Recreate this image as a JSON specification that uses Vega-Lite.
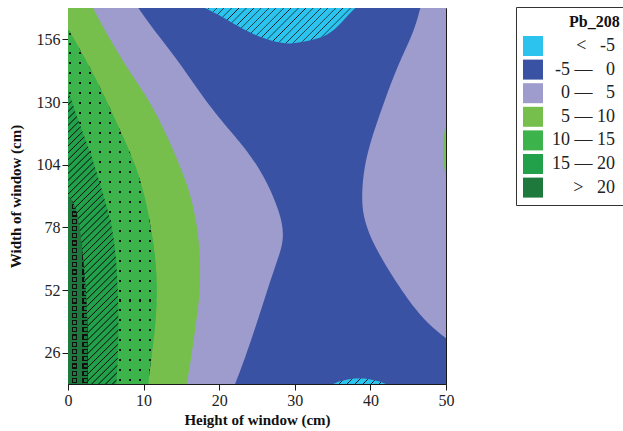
{
"$schema": "https://vega.github.io/schema/vega-lite/v6.json",
"width": 378, "height": 376,
"autosize": {"type": "none"},
"padding": {"left": 68, "top": 8, "right": 177, "bottom": 47},
"background": "white",
"config": {
  "view": {"stroke": "#1a1a1a", "strokeWidth": 1},
  "font": "Liberation Serif",
  "axis": {"grid": false, "domainColor": "#1a1a1a", "tickColor": "#1a1a1a", "labelColor": "#222", "titleColor": "#111", "labelFont": "Liberation Serif", "titleFont": "Liberation Serif", "labelFontSize": 16, "titleFontSize": 15, "titleFontWeight": "bold", "tickSize": 6, "labelPadding": 2, "labelFlush": false, "labelOverlap": false}
},
"data": {"values": [
  {"b":"n5","p":"a","y":13,"x0":0,"x1":50},{"b":"n5","p":"a","y":169,"x0":0,"x1":50},
  {"b":"p0","p":"L","y":169,"x0":0,"x1":9.3},{"b":"p0","p":"L","y":158.4,"x0":0,"x1":11.7},{"b":"p0","p":"L","y":144.5,"x0":0,"x1":15.2},{"b":"p0","p":"L","y":130.6,"x0":0,"x1":18.1},{"b":"p0","p":"L","y":116.7,"x0":0,"x1":21.8},{"b":"p0","p":"L","y":109.7,"x0":0,"x1":23.7},{"b":"p0","p":"L","y":102.8,"x0":0,"x1":25.2},{"b":"p0","p":"L","y":96,"x0":0,"x1":26.4},{"b":"p0","p":"L","y":88.9,"x0":0,"x1":27.4},{"b":"p0","p":"L","y":80,"x0":0,"x1":28.4},{"b":"p0","p":"L","y":72,"x0":0,"x1":28.5},{"b":"p0","p":"L","y":65.3,"x0":0,"x1":27.8},{"b":"p0","p":"L","y":51.4,"x0":0,"x1":26.3},{"b":"p0","p":"L","y":37.5,"x0":0,"x1":24.9},{"b":"p0","p":"L","y":23.6,"x0":0,"x1":23.4},{"b":"p0","p":"L","y":13,"x0":0,"x1":22.1},
  {"b":"p0","p":"R","y":169,"x0":46.6,"x1":50},{"b":"p0","p":"R","y":158.4,"x0":45.7,"x1":50},{"b":"p0","p":"R","y":144.5,"x0":43.5,"x1":50},{"b":"p0","p":"R","y":130.6,"x0":41.9,"x1":50},{"b":"p0","p":"R","y":116.7,"x0":40.3,"x1":50},{"b":"p0","p":"R","y":102.8,"x0":39.1,"x1":50},{"b":"p0","p":"R","y":88.9,"x0":38.8,"x1":50},{"b":"p0","p":"R","y":80.6,"x0":39.2,"x1":50},{"b":"p0","p":"R","y":70.9,"x0":40.4,"x1":50},{"b":"p0","p":"R","y":57,"x0":43.0,"x1":50},{"b":"p0","p":"R","y":43.1,"x0":46.1,"x1":50},{"b":"p0","p":"R","y":37,"x0":48.0,"x1":50},{"b":"p0","p":"R","y":32,"x0":50,"x1":50},
  {"b":"p5","p":"L","y":169,"x0":0,"x1":3.3},{"b":"p5","p":"L","y":158.4,"x0":0,"x1":5.1},{"b":"p5","p":"L","y":144.5,"x0":0,"x1":7.7},{"b":"p5","p":"L","y":130.6,"x0":0,"x1":10.8},{"b":"p5","p":"L","y":116.7,"x0":0,"x1":13.0},{"b":"p5","p":"L","y":102.8,"x0":0,"x1":14.9},{"b":"p5","p":"L","y":93,"x0":0,"x1":16.1},{"b":"p5","p":"L","y":79.2,"x0":0,"x1":17.1},{"b":"p5","p":"L","y":65.3,"x0":0,"x1":17.5},{"b":"p5","p":"L","y":51.4,"x0":0,"x1":17.5},{"b":"p5","p":"L","y":37.5,"x0":0,"x1":16.9},{"b":"p5","p":"L","y":23.6,"x0":0,"x1":16.3},{"b":"p5","p":"L","y":13,"x0":0,"x1":15.7},
  {"b":"p5","p":"R","y":98,"x0":50,"x1":50},{"b":"p5","p":"R","y":104,"x0":49.7,"x1":50},{"b":"p5","p":"R","y":110,"x0":49.6,"x1":50},{"b":"p5","p":"R","y":116,"x0":49.7,"x1":50},{"b":"p5","p":"R","y":122,"x0":50,"x1":50},
  {"b":"p10","p":"L","y":160,"x0":0,"x1":0},{"b":"p10","p":"L","y":158.4,"x0":0,"x1":0.4},{"b":"p10","p":"L","y":144.5,"x0":0,"x1":2.9},{"b":"p10","p":"L","y":130.6,"x0":0,"x1":5.1},{"b":"p10","p":"L","y":116.7,"x0":0,"x1":7.1},{"b":"p10","p":"L","y":102.8,"x0":0,"x1":9.1},{"b":"p10","p":"L","y":90,"x0":0,"x1":10.2},{"b":"p10","p":"L","y":79.2,"x0":0,"x1":10.9},{"b":"p10","p":"L","y":65.3,"x0":0,"x1":11.6},{"b":"p10","p":"L","y":51.4,"x0":0,"x1":11.8},{"b":"p10","p":"L","y":37.5,"x0":0,"x1":11.6},{"b":"p10","p":"L","y":23.6,"x0":0,"x1":11.0},{"b":"p10","p":"L","y":13,"x0":0,"x1":10.6},
  {"b":"p15","p":"L","y":135,"x0":0,"x1":0},{"b":"p15","p":"L","y":130.6,"x0":0,"x1":0.45},{"b":"p15","p":"L","y":116.7,"x0":0,"x1":2.0},{"b":"p15","p":"L","y":109.7,"x0":0,"x1":2.9},{"b":"p15","p":"L","y":102.8,"x0":0,"x1":3.6},{"b":"p15","p":"L","y":89,"x0":0,"x1":4.9},{"b":"p15","p":"L","y":79.2,"x0":0,"x1":5.8},{"b":"p15","p":"L","y":65.3,"x0":0,"x1":6.4},{"b":"p15","p":"L","y":51.4,"x0":0,"x1":6.6},{"b":"p15","p":"L","y":37.5,"x0":0,"x1":6.7},{"b":"p15","p":"L","y":23.6,"x0":0,"x1":6.6},{"b":"p15","p":"L","y":13,"x0":0,"x1":6.4},
  {"b":"gt","p":"L","y":91,"x0":0,"x1":0},{"b":"gt","p":"L","y":88,"x0":0,"x1":0.9},{"b":"gt","p":"L","y":79.2,"x0":0,"x1":1.5},{"b":"gt","p":"L","y":65.3,"x0":0,"x1":2.0},{"b":"gt","p":"L","y":51.4,"x0":0,"x1":2.4},{"b":"gt","p":"L","y":37.5,"x0":0,"x1":2.6},{"b":"gt","p":"L","y":23.6,"x0":0,"x1":2.6},{"b":"gt","p":"L","y":13,"x0":0,"x1":2.6},
  {"b":"lt","p":"T","y":169,"x0":18.1,"x1":38.0},{"b":"lt","p":"T","y":165.3,"x0":20.5,"x1":36.8},{"b":"lt","p":"T","y":161,"x0":22.7,"x1":35.6},{"b":"lt","p":"T","y":158.4,"x0":24.3,"x1":34.6},{"b":"lt","p":"T","y":156.3,"x0":26.0,"x1":33.2},{"b":"lt","p":"T","y":154.8,"x0":27.5,"x1":31.0},{"b":"lt","p":"T","y":154.3,"x0":29.0,"x1":29.5},
  {"b":"lt","p":"B","y":13,"x0":35.1,"x1":42.0},{"b":"lt","p":"B","y":14,"x0":35.8,"x1":41.3},{"b":"lt","p":"B","y":15,"x0":37.0,"x1":40.0},{"b":"lt","p":"B","y":15.3,"x0":38.3,"x1":38.8}
]},
"encoding": {
  "y": {"field": "y", "type": "quantitative", "scale": {"domain": [13, 169], "nice": false, "zero": false}, "axis": {"values": [26, 52, 78, 104, 130, 156], "title": "Width of window (cm)", "titlePadding": 13}},
  "x": {"field": "x0", "type": "quantitative", "scale": {"domain": [0, 50], "nice": false, "zero": false}, "axis": {"values": [0, 10, 20, 30, 40, 50], "title": "Height of window (cm)", "titlePadding": 4}},
  "x2": {"field": "x1"},
  "detail": {"field": "p"},
  "color": {"field": "b", "type": "nominal",
    "scale": {"domain": ["lt", "n5", "p0", "p5", "p10", "p15", "gt"], "range": ["#2CC3EE", "#3A52A3", "#9D9CCD", "#77BF4D", "#3CB44B", "#22A14A", "#1D7A3C"]},
    "legend": {"title": "Pb_208", "orient": "none", "legendX": 448, "legendY": -1, "direction": "vertical", "symbolType": "square", "symbolSize": 400, "symbolStrokeWidth": 0, "symbolOpacity": 1, "labelFontSize": 18, "labelFont": "Liberation Serif", "labelColor": "#222", "labelAlign": "right", "labelOffset": 72, "titleFontSize": 16, "titleFontWeight": "bold", "titleFont": "Liberation Serif", "titleColor": "#111", "titleAnchor": "middle", "titleAlign": "left", "titlePadding": 6, "padding": 7, "rowPadding": 3.6, "strokeColor": "#333", "fillColor": "white",
      "labelExpr": "datum.value=='lt'?'<\u2007\u00a0-5':datum.value=='n5'?'-5 \u2014 \u20070':datum.value=='p0'?'0 \u2014 \u20075':datum.value=='p5'?'5 \u2014 10':datum.value=='p10'?'10 \u2014 15':datum.value=='p15'?'15 \u2014 20':'>\u2007\u00a020'"}}
},
"layer": [
  {"transform": [{"filter": "datum.b=='n5'"}], "mark": {"type": "area", "orient": "horizontal", "clip": true}},
  {"transform": [{"filter": "datum.b=='p0'"}], "mark": {"type": "area", "orient": "horizontal", "clip": true, "interpolate": "basis"}},
  {"transform": [{"filter": "datum.b=='p5'"}], "mark": {"type": "area", "orient": "horizontal", "clip": true, "interpolate": "basis"}},
  {"transform": [{"filter": "datum.b=='p10'"}], "mark": {"type": "area", "orient": "horizontal", "clip": true, "interpolate": "basis"}},
  {"transform": [{"filter": "datum.b=='p10'"}], "mark": {"type": "area", "orient": "horizontal", "clip": true, "interpolate": "basis"},
   "encoding": {"color": {"value": {"gradient": "linear", "x1": 0, "y1": 0, "x2": 1, "y2": 0, "stops": [
    {"offset":0.0079,"color":"rgba(0,0,0,0)"},{"offset":0.0079,"color":"#111"},{"offset":0.0305,"color":"#111"},{"offset":0.0305,"color":"rgba(0,0,0,0)"},
    {"offset":0.1209,"color":"rgba(0,0,0,0)"},{"offset":0.1209,"color":"#111"},{"offset":0.1435,"color":"#111"},{"offset":0.1435,"color":"rgba(0,0,0,0)"},
    {"offset":0.2339,"color":"rgba(0,0,0,0)"},{"offset":0.2339,"color":"#111"},{"offset":0.2565,"color":"#111"},{"offset":0.2565,"color":"rgba(0,0,0,0)"},
    {"offset":0.3469,"color":"rgba(0,0,0,0)"},{"offset":0.3469,"color":"#111"},{"offset":0.3695,"color":"#111"},{"offset":0.3695,"color":"rgba(0,0,0,0)"},
    {"offset":0.4599,"color":"rgba(0,0,0,0)"},{"offset":0.4599,"color":"#111"},{"offset":0.4825,"color":"#111"},{"offset":0.4825,"color":"rgba(0,0,0,0)"},
    {"offset":0.5729,"color":"rgba(0,0,0,0)"},{"offset":0.5729,"color":"#111"},{"offset":0.5955,"color":"#111"},{"offset":0.5955,"color":"rgba(0,0,0,0)"},
    {"offset":0.6859,"color":"rgba(0,0,0,0)"},{"offset":0.6859,"color":"#111"},{"offset":0.7085,"color":"#111"},{"offset":0.7085,"color":"rgba(0,0,0,0)"},
    {"offset":0.7989,"color":"rgba(0,0,0,0)"},{"offset":0.7989,"color":"#111"},{"offset":0.8215,"color":"#111"},{"offset":0.8215,"color":"rgba(0,0,0,0)"},
    {"offset":0.9119,"color":"rgba(0,0,0,0)"},{"offset":0.9119,"color":"#111"},{"offset":0.9345,"color":"#111"},{"offset":0.9345,"color":"rgba(0,0,0,0)"}
   ]}}}},
  {"transform": [{"filter": "datum.b=='p10'"}], "mark": {"type": "area", "orient": "horizontal", "clip": true, "interpolate": "basis"},
   "encoding": {"color": {"value": {"gradient": "linear", "x1": 0, "y1": 0, "x2": 0, "y2": 1, "stops": [
    {"offset":0.0085,"color":"#3CB44B"},{"offset":0.0085,"color":"rgba(0,0,0,0)"},{"offset":0.0142,"color":"rgba(0,0,0,0)"},{"offset":0.0142,"color":"#3CB44B"},
    {"offset":0.0364,"color":"#3CB44B"},{"offset":0.0364,"color":"rgba(0,0,0,0)"},{"offset":0.0421,"color":"rgba(0,0,0,0)"},{"offset":0.0421,"color":"#3CB44B"},
    {"offset":0.0643,"color":"#3CB44B"},{"offset":0.0643,"color":"rgba(0,0,0,0)"},{"offset":0.0700,"color":"rgba(0,0,0,0)"},{"offset":0.0700,"color":"#3CB44B"},
    {"offset":0.0922,"color":"#3CB44B"},{"offset":0.0922,"color":"rgba(0,0,0,0)"},{"offset":0.0979,"color":"rgba(0,0,0,0)"},{"offset":0.0979,"color":"#3CB44B"},
    {"offset":0.1200,"color":"#3CB44B"},{"offset":0.1200,"color":"rgba(0,0,0,0)"},{"offset":0.1257,"color":"rgba(0,0,0,0)"},{"offset":0.1257,"color":"#3CB44B"},
    {"offset":0.1479,"color":"#3CB44B"},{"offset":0.1479,"color":"rgba(0,0,0,0)"},{"offset":0.1536,"color":"rgba(0,0,0,0)"},{"offset":0.1536,"color":"#3CB44B"},
    {"offset":0.1758,"color":"#3CB44B"},{"offset":0.1758,"color":"rgba(0,0,0,0)"},{"offset":0.1815,"color":"rgba(0,0,0,0)"},{"offset":0.1815,"color":"#3CB44B"},
    {"offset":0.2037,"color":"#3CB44B"},{"offset":0.2037,"color":"rgba(0,0,0,0)"},{"offset":0.2094,"color":"rgba(0,0,0,0)"},{"offset":0.2094,"color":"#3CB44B"},
    {"offset":0.2316,"color":"#3CB44B"},{"offset":0.2316,"color":"rgba(0,0,0,0)"},{"offset":0.2373,"color":"rgba(0,0,0,0)"},{"offset":0.2373,"color":"#3CB44B"},
    {"offset":0.2595,"color":"#3CB44B"},{"offset":0.2595,"color":"rgba(0,0,0,0)"},{"offset":0.2652,"color":"rgba(0,0,0,0)"},{"offset":0.2652,"color":"#3CB44B"},
    {"offset":0.2874,"color":"#3CB44B"},{"offset":0.2874,"color":"rgba(0,0,0,0)"},{"offset":0.2931,"color":"rgba(0,0,0,0)"},{"offset":0.2931,"color":"#3CB44B"},
    {"offset":0.3153,"color":"#3CB44B"},{"offset":0.3153,"color":"rgba(0,0,0,0)"},{"offset":0.3210,"color":"rgba(0,0,0,0)"},{"offset":0.3210,"color":"#3CB44B"},
    {"offset":0.3432,"color":"#3CB44B"},{"offset":0.3432,"color":"rgba(0,0,0,0)"},{"offset":0.3489,"color":"rgba(0,0,0,0)"},{"offset":0.3489,"color":"#3CB44B"},
    {"offset":0.3711,"color":"#3CB44B"},{"offset":0.3711,"color":"rgba(0,0,0,0)"},{"offset":0.3768,"color":"rgba(0,0,0,0)"},{"offset":0.3768,"color":"#3CB44B"},
    {"offset":0.3990,"color":"#3CB44B"},{"offset":0.3990,"color":"rgba(0,0,0,0)"},{"offset":0.4047,"color":"rgba(0,0,0,0)"},{"offset":0.4047,"color":"#3CB44B"},
    {"offset":0.4268,"color":"#3CB44B"},{"offset":0.4268,"color":"rgba(0,0,0,0)"},{"offset":0.4325,"color":"rgba(0,0,0,0)"},{"offset":0.4325,"color":"#3CB44B"},
    {"offset":0.4547,"color":"#3CB44B"},{"offset":0.4547,"color":"rgba(0,0,0,0)"},{"offset":0.4604,"color":"rgba(0,0,0,0)"},{"offset":0.4604,"color":"#3CB44B"},
    {"offset":0.4826,"color":"#3CB44B"},{"offset":0.4826,"color":"rgba(0,0,0,0)"},{"offset":0.4883,"color":"rgba(0,0,0,0)"},{"offset":0.4883,"color":"#3CB44B"},
    {"offset":0.5105,"color":"#3CB44B"},{"offset":0.5105,"color":"rgba(0,0,0,0)"},{"offset":0.5162,"color":"rgba(0,0,0,0)"},{"offset":0.5162,"color":"#3CB44B"},
    {"offset":0.5384,"color":"#3CB44B"},{"offset":0.5384,"color":"rgba(0,0,0,0)"},{"offset":0.5441,"color":"rgba(0,0,0,0)"},{"offset":0.5441,"color":"#3CB44B"},
    {"offset":0.5663,"color":"#3CB44B"},{"offset":0.5663,"color":"rgba(0,0,0,0)"},{"offset":0.5720,"color":"rgba(0,0,0,0)"},{"offset":0.5720,"color":"#3CB44B"},
    {"offset":0.5942,"color":"#3CB44B"},{"offset":0.5942,"color":"rgba(0,0,0,0)"},{"offset":0.5999,"color":"rgba(0,0,0,0)"},{"offset":0.5999,"color":"#3CB44B"},
    {"offset":0.6221,"color":"#3CB44B"},{"offset":0.6221,"color":"rgba(0,0,0,0)"},{"offset":0.6278,"color":"rgba(0,0,0,0)"},{"offset":0.6278,"color":"#3CB44B"},
    {"offset":0.6500,"color":"#3CB44B"},{"offset":0.6500,"color":"rgba(0,0,0,0)"},{"offset":0.6557,"color":"rgba(0,0,0,0)"},{"offset":0.6557,"color":"#3CB44B"},
    {"offset":0.6779,"color":"#3CB44B"},{"offset":0.6779,"color":"rgba(0,0,0,0)"},{"offset":0.6836,"color":"rgba(0,0,0,0)"},{"offset":0.6836,"color":"#3CB44B"},
    {"offset":0.7058,"color":"#3CB44B"},{"offset":0.7058,"color":"rgba(0,0,0,0)"},{"offset":0.7115,"color":"rgba(0,0,0,0)"},{"offset":0.7115,"color":"#3CB44B"},
    {"offset":0.7336,"color":"#3CB44B"},{"offset":0.7336,"color":"rgba(0,0,0,0)"},{"offset":0.7393,"color":"rgba(0,0,0,0)"},{"offset":0.7393,"color":"#3CB44B"},
    {"offset":0.7615,"color":"#3CB44B"},{"offset":0.7615,"color":"rgba(0,0,0,0)"},{"offset":0.7672,"color":"rgba(0,0,0,0)"},{"offset":0.7672,"color":"#3CB44B"},
    {"offset":0.7894,"color":"#3CB44B"},{"offset":0.7894,"color":"rgba(0,0,0,0)"},{"offset":0.7951,"color":"rgba(0,0,0,0)"},{"offset":0.7951,"color":"#3CB44B"},
    {"offset":0.8173,"color":"#3CB44B"},{"offset":0.8173,"color":"rgba(0,0,0,0)"},{"offset":0.8230,"color":"rgba(0,0,0,0)"},{"offset":0.8230,"color":"#3CB44B"},
    {"offset":0.8452,"color":"#3CB44B"},{"offset":0.8452,"color":"rgba(0,0,0,0)"},{"offset":0.8509,"color":"rgba(0,0,0,0)"},{"offset":0.8509,"color":"#3CB44B"},
    {"offset":0.8731,"color":"#3CB44B"},{"offset":0.8731,"color":"rgba(0,0,0,0)"},{"offset":0.8788,"color":"rgba(0,0,0,0)"},{"offset":0.8788,"color":"#3CB44B"},
    {"offset":0.9010,"color":"#3CB44B"},{"offset":0.9010,"color":"rgba(0,0,0,0)"},{"offset":0.9067,"color":"rgba(0,0,0,0)"},{"offset":0.9067,"color":"#3CB44B"},
    {"offset":0.9289,"color":"#3CB44B"},{"offset":0.9289,"color":"rgba(0,0,0,0)"},{"offset":0.9346,"color":"rgba(0,0,0,0)"},{"offset":0.9346,"color":"#3CB44B"},
    {"offset":0.9568,"color":"#3CB44B"},{"offset":0.9568,"color":"rgba(0,0,0,0)"},{"offset":0.9625,"color":"rgba(0,0,0,0)"},{"offset":0.9625,"color":"#3CB44B"},
    {"offset":0.9847,"color":"#3CB44B"},{"offset":0.9847,"color":"rgba(0,0,0,0)"},{"offset":0.9904,"color":"rgba(0,0,0,0)"},{"offset":0.9904,"color":"#3CB44B"}
   ]}}}},
  {"transform": [{"filter": "datum.b=='p15'"}], "mark": {"type": "area", "orient": "horizontal", "clip": true, "interpolate": "basis"}},
  {"transform": [{"filter": "datum.b=='p15'"}], "mark": {"type": "area", "orient": "horizontal", "clip": true, "interpolate": "basis"},
   "encoding": {"color": {"value": {"gradient": "linear", "x1": 0, "y1": 0, "x2": 0.193, "y2": 1.137, "stops": [
    {"offset":0,"color":"rgba(0,0,0,0)"},{"offset":0.003,"color":"#111"},{"offset":0.006,"color":"rgba(0,0,0,0)"},
    {"offset":0.02,"color":"rgba(0,0,0,0)"},{"offset":0.023,"color":"#111"},{"offset":0.026,"color":"rgba(0,0,0,0)"},
    {"offset":0.04,"color":"rgba(0,0,0,0)"},{"offset":0.043,"color":"#111"},{"offset":0.046,"color":"rgba(0,0,0,0)"},
    {"offset":0.06,"color":"rgba(0,0,0,0)"},{"offset":0.063,"color":"#111"},{"offset":0.066,"color":"rgba(0,0,0,0)"},
    {"offset":0.08,"color":"rgba(0,0,0,0)"},{"offset":0.083,"color":"#111"},{"offset":0.086,"color":"rgba(0,0,0,0)"},
    {"offset":0.10,"color":"rgba(0,0,0,0)"},{"offset":0.103,"color":"#111"},{"offset":0.106,"color":"rgba(0,0,0,0)"},
    {"offset":0.12,"color":"rgba(0,0,0,0)"},{"offset":0.123,"color":"#111"},{"offset":0.126,"color":"rgba(0,0,0,0)"},
    {"offset":0.14,"color":"rgba(0,0,0,0)"},{"offset":0.143,"color":"#111"},{"offset":0.146,"color":"rgba(0,0,0,0)"},
    {"offset":0.16,"color":"rgba(0,0,0,0)"},{"offset":0.163,"color":"#111"},{"offset":0.166,"color":"rgba(0,0,0,0)"},
    {"offset":0.18,"color":"rgba(0,0,0,0)"},{"offset":0.183,"color":"#111"},{"offset":0.186,"color":"rgba(0,0,0,0)"},
    {"offset":0.20,"color":"rgba(0,0,0,0)"},{"offset":0.203,"color":"#111"},{"offset":0.206,"color":"rgba(0,0,0,0)"},
    {"offset":0.22,"color":"rgba(0,0,0,0)"},{"offset":0.223,"color":"#111"},{"offset":0.226,"color":"rgba(0,0,0,0)"},
    {"offset":0.24,"color":"rgba(0,0,0,0)"},{"offset":0.243,"color":"#111"},{"offset":0.246,"color":"rgba(0,0,0,0)"},
    {"offset":0.26,"color":"rgba(0,0,0,0)"},{"offset":0.263,"color":"#111"},{"offset":0.266,"color":"rgba(0,0,0,0)"},
    {"offset":0.28,"color":"rgba(0,0,0,0)"},{"offset":0.283,"color":"#111"},{"offset":0.286,"color":"rgba(0,0,0,0)"},
    {"offset":0.30,"color":"rgba(0,0,0,0)"},{"offset":0.303,"color":"#111"},{"offset":0.306,"color":"rgba(0,0,0,0)"},
    {"offset":0.32,"color":"rgba(0,0,0,0)"},{"offset":0.323,"color":"#111"},{"offset":0.326,"color":"rgba(0,0,0,0)"},
    {"offset":0.34,"color":"rgba(0,0,0,0)"},{"offset":0.343,"color":"#111"},{"offset":0.346,"color":"rgba(0,0,0,0)"},
    {"offset":0.36,"color":"rgba(0,0,0,0)"},{"offset":0.363,"color":"#111"},{"offset":0.366,"color":"rgba(0,0,0,0)"},
    {"offset":0.38,"color":"rgba(0,0,0,0)"},{"offset":0.383,"color":"#111"},{"offset":0.386,"color":"rgba(0,0,0,0)"},
    {"offset":0.40,"color":"rgba(0,0,0,0)"},{"offset":0.403,"color":"#111"},{"offset":0.406,"color":"rgba(0,0,0,0)"},
    {"offset":0.42,"color":"rgba(0,0,0,0)"},{"offset":0.423,"color":"#111"},{"offset":0.426,"color":"rgba(0,0,0,0)"},
    {"offset":0.44,"color":"rgba(0,0,0,0)"},{"offset":0.443,"color":"#111"},{"offset":0.446,"color":"rgba(0,0,0,0)"},
    {"offset":0.46,"color":"rgba(0,0,0,0)"},{"offset":0.463,"color":"#111"},{"offset":0.466,"color":"rgba(0,0,0,0)"},
    {"offset":0.48,"color":"rgba(0,0,0,0)"},{"offset":0.483,"color":"#111"},{"offset":0.486,"color":"rgba(0,0,0,0)"},
    {"offset":0.50,"color":"rgba(0,0,0,0)"},{"offset":0.503,"color":"#111"},{"offset":0.506,"color":"rgba(0,0,0,0)"},
    {"offset":0.52,"color":"rgba(0,0,0,0)"},{"offset":0.523,"color":"#111"},{"offset":0.526,"color":"rgba(0,0,0,0)"},
    {"offset":0.54,"color":"rgba(0,0,0,0)"},{"offset":0.543,"color":"#111"},{"offset":0.546,"color":"rgba(0,0,0,0)"},
    {"offset":0.56,"color":"rgba(0,0,0,0)"},{"offset":0.563,"color":"#111"},{"offset":0.566,"color":"rgba(0,0,0,0)"},
    {"offset":0.58,"color":"rgba(0,0,0,0)"},{"offset":0.583,"color":"#111"},{"offset":0.586,"color":"rgba(0,0,0,0)"},
    {"offset":0.60,"color":"rgba(0,0,0,0)"},{"offset":0.603,"color":"#111"},{"offset":0.606,"color":"rgba(0,0,0,0)"},
    {"offset":0.62,"color":"rgba(0,0,0,0)"},{"offset":0.623,"color":"#111"},{"offset":0.626,"color":"rgba(0,0,0,0)"},
    {"offset":0.64,"color":"rgba(0,0,0,0)"},{"offset":0.643,"color":"#111"},{"offset":0.646,"color":"rgba(0,0,0,0)"},
    {"offset":0.66,"color":"rgba(0,0,0,0)"},{"offset":0.663,"color":"#111"},{"offset":0.666,"color":"rgba(0,0,0,0)"},
    {"offset":0.68,"color":"rgba(0,0,0,0)"},{"offset":0.683,"color":"#111"},{"offset":0.686,"color":"rgba(0,0,0,0)"},
    {"offset":0.70,"color":"rgba(0,0,0,0)"},{"offset":0.703,"color":"#111"},{"offset":0.706,"color":"rgba(0,0,0,0)"},
    {"offset":0.72,"color":"rgba(0,0,0,0)"},{"offset":0.723,"color":"#111"},{"offset":0.726,"color":"rgba(0,0,0,0)"},
    {"offset":0.74,"color":"rgba(0,0,0,0)"},{"offset":0.743,"color":"#111"},{"offset":0.746,"color":"rgba(0,0,0,0)"},
    {"offset":0.76,"color":"rgba(0,0,0,0)"},{"offset":0.763,"color":"#111"},{"offset":0.766,"color":"rgba(0,0,0,0)"},
    {"offset":0.78,"color":"rgba(0,0,0,0)"},{"offset":0.783,"color":"#111"},{"offset":0.786,"color":"rgba(0,0,0,0)"},
    {"offset":0.80,"color":"rgba(0,0,0,0)"},{"offset":0.803,"color":"#111"},{"offset":0.806,"color":"rgba(0,0,0,0)"},
    {"offset":0.82,"color":"rgba(0,0,0,0)"},{"offset":0.823,"color":"#111"},{"offset":0.826,"color":"rgba(0,0,0,0)"},
    {"offset":0.84,"color":"rgba(0,0,0,0)"},{"offset":0.843,"color":"#111"},{"offset":0.846,"color":"rgba(0,0,0,0)"},
    {"offset":0.86,"color":"rgba(0,0,0,0)"},{"offset":0.863,"color":"#111"},{"offset":0.866,"color":"rgba(0,0,0,0)"},
    {"offset":0.88,"color":"rgba(0,0,0,0)"},{"offset":0.883,"color":"#111"},{"offset":0.886,"color":"rgba(0,0,0,0)"},
    {"offset":0.90,"color":"rgba(0,0,0,0)"},{"offset":0.903,"color":"#111"},{"offset":0.906,"color":"rgba(0,0,0,0)"},
    {"offset":0.92,"color":"rgba(0,0,0,0)"},{"offset":0.923,"color":"#111"},{"offset":0.926,"color":"rgba(0,0,0,0)"},
    {"offset":0.94,"color":"rgba(0,0,0,0)"},{"offset":0.943,"color":"#111"},{"offset":0.946,"color":"rgba(0,0,0,0)"},
    {"offset":0.96,"color":"rgba(0,0,0,0)"},{"offset":0.963,"color":"#111"},{"offset":0.966,"color":"rgba(0,0,0,0)"},
    {"offset":0.98,"color":"rgba(0,0,0,0)"},{"offset":0.983,"color":"#111"},{"offset":0.986,"color":"rgba(0,0,0,0)"}
   ]}}}},
  {"transform": [{"filter": "datum.b=='gt'"}], "mark": {"type": "area", "orient": "horizontal", "clip": true, "interpolate": "basis"}},
  {"transform": [{"filter": "datum.b=='gt'"}], "mark": {"type": "area", "orient": "horizontal", "clip": true, "interpolate": "basis"},
   "encoding": {"color": {"value": {"gradient": "linear", "x1": 0, "y1": 0, "x2": 1, "y2": 0, "stops": [
    {"offset":0.2035,"color":"rgba(0,0,0,0)"},{"offset":0.2035,"color":"#111"},{"offset":0.2696,"color":"#111"},{"offset":0.2696,"color":"#1D7A3C"},{"offset":0.4171,"color":"#1D7A3C"},{"offset":0.4171,"color":"#111"},{"offset":0.4832,"color":"#111"},{"offset":0.4832,"color":"rgba(0,0,0,0)"},
    {"offset":0.7375,"color":"rgba(0,0,0,0)"},{"offset":0.7375,"color":"#111"},{"offset":0.8037,"color":"#111"},{"offset":0.8037,"color":"#1D7A3C"},{"offset":0.9512,"color":"#1D7A3C"},{"offset":0.9512,"color":"#111"},{"offset":1,"color":"#111"}
   ]}}}},
  {"transform": [{"filter": "datum.b=='gt'"}], "mark": {"type": "area", "orient": "horizontal", "clip": true, "interpolate": "basis"},
   "encoding": {"color": {"value": {"gradient": "linear", "x1": 0, "y1": 0, "x2": 0, "y2": 1, "stops": [
    {"offset":0.005,"color":"#1D7A3C"},{"offset":0.005,"color":"#111"},{"offset":0.0115,"color":"#111"},{"offset":0.0115,"color":"rgba(0,0,0,0)"},{"offset":0.0265,"color":"rgba(0,0,0,0)"},{"offset":0.0265,"color":"#111"},{"offset":0.033,"color":"#111"},{"offset":0.033,"color":"#1D7A3C"},
    {"offset":0.0435,"color":"#1D7A3C"},{"offset":0.0435,"color":"#111"},{"offset":0.05,"color":"#111"},{"offset":0.05,"color":"rgba(0,0,0,0)"},{"offset":0.065,"color":"rgba(0,0,0,0)"},{"offset":0.065,"color":"#111"},{"offset":0.0715,"color":"#111"},{"offset":0.0715,"color":"#1D7A3C"},
    {"offset":0.082,"color":"#1D7A3C"},{"offset":0.082,"color":"#111"},{"offset":0.0885,"color":"#111"},{"offset":0.0885,"color":"rgba(0,0,0,0)"},{"offset":0.1035,"color":"rgba(0,0,0,0)"},{"offset":0.1035,"color":"#111"},{"offset":0.11,"color":"#111"},{"offset":0.11,"color":"#1D7A3C"},
    {"offset":0.1205,"color":"#1D7A3C"},{"offset":0.1205,"color":"#111"},{"offset":0.127,"color":"#111"},{"offset":0.127,"color":"rgba(0,0,0,0)"},{"offset":0.142,"color":"rgba(0,0,0,0)"},{"offset":0.142,"color":"#111"},{"offset":0.1485,"color":"#111"},{"offset":0.1485,"color":"#1D7A3C"},
    {"offset":0.159,"color":"#1D7A3C"},{"offset":0.159,"color":"#111"},{"offset":0.1655,"color":"#111"},{"offset":0.1655,"color":"rgba(0,0,0,0)"},{"offset":0.1805,"color":"rgba(0,0,0,0)"},{"offset":0.1805,"color":"#111"},{"offset":0.187,"color":"#111"},{"offset":0.187,"color":"#1D7A3C"},
    {"offset":0.1975,"color":"#1D7A3C"},{"offset":0.1975,"color":"#111"},{"offset":0.204,"color":"#111"},{"offset":0.204,"color":"rgba(0,0,0,0)"},{"offset":0.219,"color":"rgba(0,0,0,0)"},{"offset":0.219,"color":"#111"},{"offset":0.2255,"color":"#111"},{"offset":0.2255,"color":"#1D7A3C"},
    {"offset":0.236,"color":"#1D7A3C"},{"offset":0.236,"color":"#111"},{"offset":0.2425,"color":"#111"},{"offset":0.2425,"color":"rgba(0,0,0,0)"},{"offset":0.2575,"color":"rgba(0,0,0,0)"},{"offset":0.2575,"color":"#111"},{"offset":0.264,"color":"#111"},{"offset":0.264,"color":"#1D7A3C"},
    {"offset":0.2745,"color":"#1D7A3C"},{"offset":0.2745,"color":"#111"},{"offset":0.281,"color":"#111"},{"offset":0.281,"color":"rgba(0,0,0,0)"},{"offset":0.296,"color":"rgba(0,0,0,0)"},{"offset":0.296,"color":"#111"},{"offset":0.3025,"color":"#111"},{"offset":0.3025,"color":"#1D7A3C"},
    {"offset":0.313,"color":"#1D7A3C"},{"offset":0.313,"color":"#111"},{"offset":0.3195,"color":"#111"},{"offset":0.3195,"color":"rgba(0,0,0,0)"},{"offset":0.3345,"color":"rgba(0,0,0,0)"},{"offset":0.3345,"color":"#111"},{"offset":0.341,"color":"#111"},{"offset":0.341,"color":"#1D7A3C"},
    {"offset":0.3515,"color":"#1D7A3C"},{"offset":0.3515,"color":"#111"},{"offset":0.358,"color":"#111"},{"offset":0.358,"color":"rgba(0,0,0,0)"},{"offset":0.373,"color":"rgba(0,0,0,0)"},{"offset":0.373,"color":"#111"},{"offset":0.3795,"color":"#111"},{"offset":0.3795,"color":"#1D7A3C"},
    {"offset":0.39,"color":"#1D7A3C"},{"offset":0.39,"color":"#111"},{"offset":0.3965,"color":"#111"},{"offset":0.3965,"color":"rgba(0,0,0,0)"},{"offset":0.4115,"color":"rgba(0,0,0,0)"},{"offset":0.4115,"color":"#111"},{"offset":0.418,"color":"#111"},{"offset":0.418,"color":"#1D7A3C"},
    {"offset":0.4285,"color":"#1D7A3C"},{"offset":0.4285,"color":"#111"},{"offset":0.435,"color":"#111"},{"offset":0.435,"color":"rgba(0,0,0,0)"},{"offset":0.45,"color":"rgba(0,0,0,0)"},{"offset":0.45,"color":"#111"},{"offset":0.4565,"color":"#111"},{"offset":0.4565,"color":"#1D7A3C"},
    {"offset":0.467,"color":"#1D7A3C"},{"offset":0.467,"color":"#111"},{"offset":0.4735,"color":"#111"},{"offset":0.4735,"color":"rgba(0,0,0,0)"},{"offset":0.4885,"color":"rgba(0,0,0,0)"},{"offset":0.4885,"color":"#111"},{"offset":0.495,"color":"#111"},{"offset":0.495,"color":"#1D7A3C"},
    {"offset":0.5055,"color":"#1D7A3C"},{"offset":0.5055,"color":"#111"},{"offset":0.512,"color":"#111"},{"offset":0.512,"color":"rgba(0,0,0,0)"},{"offset":0.527,"color":"rgba(0,0,0,0)"},{"offset":0.527,"color":"#111"},{"offset":0.5335,"color":"#111"},{"offset":0.5335,"color":"#1D7A3C"},
    {"offset":0.544,"color":"#1D7A3C"},{"offset":0.544,"color":"#111"},{"offset":0.5505,"color":"#111"},{"offset":0.5505,"color":"rgba(0,0,0,0)"},{"offset":0.5655,"color":"rgba(0,0,0,0)"},{"offset":0.5655,"color":"#111"},{"offset":0.572,"color":"#111"},{"offset":0.572,"color":"#1D7A3C"},
    {"offset":0.5825,"color":"#1D7A3C"},{"offset":0.5825,"color":"#111"},{"offset":0.589,"color":"#111"},{"offset":0.589,"color":"rgba(0,0,0,0)"},{"offset":0.604,"color":"rgba(0,0,0,0)"},{"offset":0.604,"color":"#111"},{"offset":0.6105,"color":"#111"},{"offset":0.6105,"color":"#1D7A3C"},
    {"offset":0.621,"color":"#1D7A3C"},{"offset":0.621,"color":"#111"},{"offset":0.6275,"color":"#111"},{"offset":0.6275,"color":"rgba(0,0,0,0)"},{"offset":0.6425,"color":"rgba(0,0,0,0)"},{"offset":0.6425,"color":"#111"},{"offset":0.649,"color":"#111"},{"offset":0.649,"color":"#1D7A3C"},
    {"offset":0.6595,"color":"#1D7A3C"},{"offset":0.6595,"color":"#111"},{"offset":0.666,"color":"#111"},{"offset":0.666,"color":"rgba(0,0,0,0)"},{"offset":0.681,"color":"rgba(0,0,0,0)"},{"offset":0.681,"color":"#111"},{"offset":0.6875,"color":"#111"},{"offset":0.6875,"color":"#1D7A3C"},
    {"offset":0.698,"color":"#1D7A3C"},{"offset":0.698,"color":"#111"},{"offset":0.7045,"color":"#111"},{"offset":0.7045,"color":"rgba(0,0,0,0)"},{"offset":0.7195,"color":"rgba(0,0,0,0)"},{"offset":0.7195,"color":"#111"},{"offset":0.726,"color":"#111"},{"offset":0.726,"color":"#1D7A3C"},
    {"offset":0.7365,"color":"#1D7A3C"},{"offset":0.7365,"color":"#111"},{"offset":0.743,"color":"#111"},{"offset":0.743,"color":"rgba(0,0,0,0)"},{"offset":0.758,"color":"rgba(0,0,0,0)"},{"offset":0.758,"color":"#111"},{"offset":0.7645,"color":"#111"},{"offset":0.7645,"color":"#1D7A3C"},
    {"offset":0.775,"color":"#1D7A3C"},{"offset":0.775,"color":"#111"},{"offset":0.7815,"color":"#111"},{"offset":0.7815,"color":"rgba(0,0,0,0)"},{"offset":0.7965,"color":"rgba(0,0,0,0)"},{"offset":0.7965,"color":"#111"},{"offset":0.803,"color":"#111"},{"offset":0.803,"color":"#1D7A3C"},
    {"offset":0.8135,"color":"#1D7A3C"},{"offset":0.8135,"color":"#111"},{"offset":0.82,"color":"#111"},{"offset":0.82,"color":"rgba(0,0,0,0)"},{"offset":0.835,"color":"rgba(0,0,0,0)"},{"offset":0.835,"color":"#111"},{"offset":0.8415,"color":"#111"},{"offset":0.8415,"color":"#1D7A3C"},
    {"offset":0.852,"color":"#1D7A3C"},{"offset":0.852,"color":"#111"},{"offset":0.8585,"color":"#111"},{"offset":0.8585,"color":"rgba(0,0,0,0)"},{"offset":0.8735,"color":"rgba(0,0,0,0)"},{"offset":0.8735,"color":"#111"},{"offset":0.88,"color":"#111"},{"offset":0.88,"color":"#1D7A3C"},
    {"offset":0.8905,"color":"#1D7A3C"},{"offset":0.8905,"color":"#111"},{"offset":0.897,"color":"#111"},{"offset":0.897,"color":"rgba(0,0,0,0)"},{"offset":0.912,"color":"rgba(0,0,0,0)"},{"offset":0.912,"color":"#111"},{"offset":0.9185,"color":"#111"},{"offset":0.9185,"color":"#1D7A3C"},
    {"offset":0.929,"color":"#1D7A3C"},{"offset":0.929,"color":"#111"},{"offset":0.9355,"color":"#111"},{"offset":0.9355,"color":"rgba(0,0,0,0)"},{"offset":0.9505,"color":"rgba(0,0,0,0)"},{"offset":0.9505,"color":"#111"},{"offset":0.957,"color":"#111"},{"offset":0.957,"color":"#1D7A3C"},
    {"offset":0.9675,"color":"#1D7A3C"},{"offset":0.9675,"color":"#111"},{"offset":0.974,"color":"#111"},{"offset":0.974,"color":"rgba(0,0,0,0)"},{"offset":0.989,"color":"rgba(0,0,0,0)"},{"offset":0.989,"color":"#111"},{"offset":0.9955,"color":"#111"},{"offset":0.9955,"color":"#1D7A3C"}
   ]}}}},
  {"transform": [{"filter": "datum.b=='gt'"}], "mark": {"type": "area", "orient": "horizontal", "clip": true, "interpolate": "basis"},
   "encoding": {"color": {"value": {"gradient": "linear", "x1": 0, "y1": 0, "x2": 1, "y2": 0, "stops": [
    {"offset":0.2035,"color":"#1D7A3C"},{"offset":0.2035,"color":"rgba(0,0,0,0)"},{"offset":0.4832,"color":"rgba(0,0,0,0)"},{"offset":0.4832,"color":"#1D7A3C"},{"offset":0.7375,"color":"#1D7A3C"},{"offset":0.7375,"color":"rgba(0,0,0,0)"},{"offset":1,"color":"rgba(0,0,0,0)"}
   ]}}}},
  {"transform": [{"filter": "datum.b=='lt'"}], "mark": {"type": "area", "orient": "horizontal", "clip": true, "interpolate": "basis"}},
  {"transform": [{"filter": "datum.b=='lt' && datum.p=='T'"}], "mark": {"type": "area", "orient": "horizontal", "clip": true, "interpolate": "basis"},
   "encoding": {"color": {"value": {"gradient": "linear", "x1": 0, "y1": 0, "x2": 1.1706, "y2": 0.2755, "stops": [
    {"offset":0.02,"color":"rgba(0,0,0,0)"},{"offset":0.024,"color":"#111"},{"offset":0.028,"color":"rgba(0,0,0,0)"},
    {"offset":0.06,"color":"rgba(0,0,0,0)"},{"offset":0.064,"color":"#111"},{"offset":0.068,"color":"rgba(0,0,0,0)"},
    {"offset":0.10,"color":"rgba(0,0,0,0)"},{"offset":0.104,"color":"#111"},{"offset":0.108,"color":"rgba(0,0,0,0)"},
    {"offset":0.14,"color":"rgba(0,0,0,0)"},{"offset":0.144,"color":"#111"},{"offset":0.148,"color":"rgba(0,0,0,0)"},
    {"offset":0.18,"color":"rgba(0,0,0,0)"},{"offset":0.184,"color":"#111"},{"offset":0.188,"color":"rgba(0,0,0,0)"},
    {"offset":0.22,"color":"rgba(0,0,0,0)"},{"offset":0.224,"color":"#111"},{"offset":0.228,"color":"rgba(0,0,0,0)"},
    {"offset":0.26,"color":"rgba(0,0,0,0)"},{"offset":0.264,"color":"#111"},{"offset":0.268,"color":"rgba(0,0,0,0)"},
    {"offset":0.30,"color":"rgba(0,0,0,0)"},{"offset":0.304,"color":"#111"},{"offset":0.308,"color":"rgba(0,0,0,0)"},
    {"offset":0.34,"color":"rgba(0,0,0,0)"},{"offset":0.344,"color":"#111"},{"offset":0.348,"color":"rgba(0,0,0,0)"},
    {"offset":0.38,"color":"rgba(0,0,0,0)"},{"offset":0.384,"color":"#111"},{"offset":0.388,"color":"rgba(0,0,0,0)"},
    {"offset":0.42,"color":"rgba(0,0,0,0)"},{"offset":0.424,"color":"#111"},{"offset":0.428,"color":"rgba(0,0,0,0)"},
    {"offset":0.46,"color":"rgba(0,0,0,0)"},{"offset":0.464,"color":"#111"},{"offset":0.468,"color":"rgba(0,0,0,0)"},
    {"offset":0.50,"color":"rgba(0,0,0,0)"},{"offset":0.504,"color":"#111"},{"offset":0.508,"color":"rgba(0,0,0,0)"},
    {"offset":0.54,"color":"rgba(0,0,0,0)"},{"offset":0.544,"color":"#111"},{"offset":0.548,"color":"rgba(0,0,0,0)"},
    {"offset":0.58,"color":"rgba(0,0,0,0)"},{"offset":0.584,"color":"#111"},{"offset":0.588,"color":"rgba(0,0,0,0)"},
    {"offset":0.62,"color":"rgba(0,0,0,0)"},{"offset":0.624,"color":"#111"},{"offset":0.628,"color":"rgba(0,0,0,0)"},
    {"offset":0.66,"color":"rgba(0,0,0,0)"},{"offset":0.664,"color":"#111"},{"offset":0.668,"color":"rgba(0,0,0,0)"},
    {"offset":0.70,"color":"rgba(0,0,0,0)"},{"offset":0.704,"color":"#111"},{"offset":0.708,"color":"rgba(0,0,0,0)"},
    {"offset":0.74,"color":"rgba(0,0,0,0)"},{"offset":0.744,"color":"#111"},{"offset":0.748,"color":"rgba(0,0,0,0)"},
    {"offset":0.78,"color":"rgba(0,0,0,0)"},{"offset":0.784,"color":"#111"},{"offset":0.788,"color":"rgba(0,0,0,0)"},
    {"offset":0.82,"color":"rgba(0,0,0,0)"},{"offset":0.824,"color":"#111"},{"offset":0.828,"color":"rgba(0,0,0,0)"},
    {"offset":0.86,"color":"rgba(0,0,0,0)"},{"offset":0.864,"color":"#111"},{"offset":0.868,"color":"rgba(0,0,0,0)"},
    {"offset":0.90,"color":"rgba(0,0,0,0)"},{"offset":0.904,"color":"#111"},{"offset":0.908,"color":"rgba(0,0,0,0)"},
    {"offset":0.94,"color":"rgba(0,0,0,0)"},{"offset":0.944,"color":"#111"},{"offset":0.948,"color":"rgba(0,0,0,0)"},
    {"offset":0.98,"color":"rgba(0,0,0,0)"},{"offset":0.984,"color":"#111"},{"offset":0.988,"color":"rgba(0,0,0,0)"}
   ]}}}},
  {"transform": [{"filter": "datum.b=='lt' && datum.p=='B'"}], "mark": {"type": "area", "orient": "horizontal", "clip": true, "interpolate": "basis"},
   "encoding": {"color": {"value": {"gradient": "linear", "x1": 0, "y1": 0, "x2": 1.093, "y2": 0.1152, "stops": [
    {"offset":0.04,"color":"rgba(0,0,0,0)"},{"offset":0.053,"color":"#111"},{"offset":0.066,"color":"rgba(0,0,0,0)"},
    {"offset":0.179,"color":"rgba(0,0,0,0)"},{"offset":0.192,"color":"#111"},{"offset":0.205,"color":"rgba(0,0,0,0)"},
    {"offset":0.318,"color":"rgba(0,0,0,0)"},{"offset":0.331,"color":"#111"},{"offset":0.344,"color":"rgba(0,0,0,0)"},
    {"offset":0.457,"color":"rgba(0,0,0,0)"},{"offset":0.470,"color":"#111"},{"offset":0.483,"color":"rgba(0,0,0,0)"},
    {"offset":0.596,"color":"rgba(0,0,0,0)"},{"offset":0.609,"color":"#111"},{"offset":0.622,"color":"rgba(0,0,0,0)"},
    {"offset":0.735,"color":"rgba(0,0,0,0)"},{"offset":0.748,"color":"#111"},{"offset":0.761,"color":"rgba(0,0,0,0)"},
    {"offset":0.874,"color":"rgba(0,0,0,0)"},{"offset":0.887,"color":"#111"},{"offset":0.900,"color":"rgba(0,0,0,0)"}
   ]}}}}
]
}
